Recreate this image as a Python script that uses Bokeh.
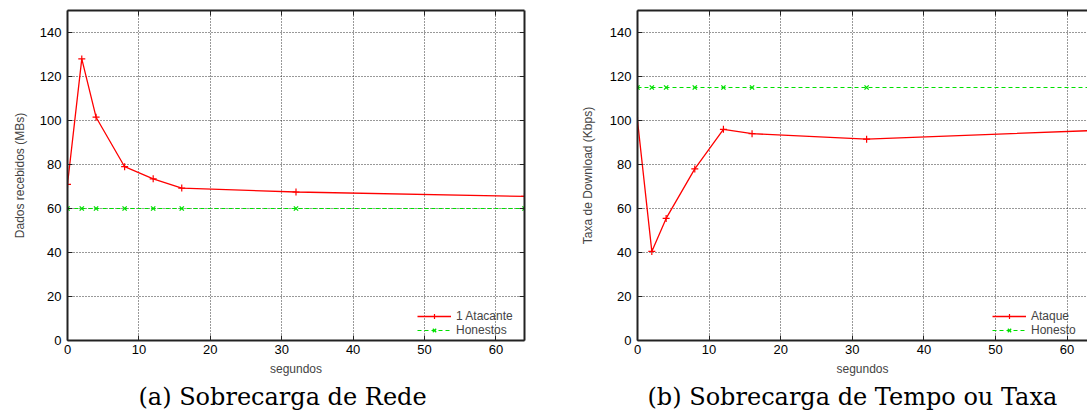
from bokeh.plotting import figure
from bokeh.models import Range1d, FixedTicker, LinearAxis, Legend, LegendItem
from bokeh.layouts import row
from bokeh.embed import file_html
from bokeh.resources import INLINE

# ---- data ----
tempo = [0, 2, 4, 8, 12, 16, 32, 64]
dados_atacante = [71, 128, 101.5, 79, 73.5, 69.3, 67.5, 65.5]
dados_honestos = [60, 60, 60, 60, 60, 60, 60, 60]
taxa_ataque = [100, 40.5, 55.5, 78, 96, 94, 91.5, 95.5]
taxa_honesto = [115, 115, 115, 115, 115, 115, 115, 115]
x_ticks = [0, 10, 20, 30, 40, 50, 60]
y_ticks = [0, 20, 40, 60, 80, 100, 120, 140]

SANS = "Liberation Sans"
SERIF = "DejaVu Serif"
RED = "#ff0000"
GREEN = "#00e000"


def style_axis(ax, labels=True):
    ax.major_tick_in = 5
    ax.major_tick_out = 0
    ax.minor_tick_line_color = None
    ax.axis_line_width = 2
    ax.axis_line_color = "#222222"
    ax.major_tick_line_color = "#222222"
    ax.major_tick_line_width = 1
    ax.major_label_text_font = SANS
    ax.major_label_text_font_size = "13px"
    ax.major_label_text_color = "black" if labels else None
    ax.axis_label_text_font = SANS
    ax.axis_label_text_font_size = "12px"
    ax.axis_label_text_font_style = "normal"


def make(title, ylabel, x_end, ys_red, ys_green, lab_red, lab_green, width, bl, br,
         mirror_right, ylab_standoff, title_offset, leg_loc):
    p = figure(width=width, height=418, output_backend="svg", toolbar_location=None,
               x_range=Range1d(0, x_end), y_range=Range1d(0, 150),
               min_border_left=bl, min_border_right=br, min_border_top=10, min_border_bottom=78)
    p.outline_line_color = None
    p.xaxis.ticker = FixedTicker(ticks=x_ticks)
    p.yaxis.ticker = FixedTicker(ticks=y_ticks)
    p.xaxis.axis_label = "segundos"
    p.yaxis.axis_label = ylabel
    style_axis(p.xaxis[0])
    style_axis(p.yaxis[0])
    p.xaxis.major_label_standoff = 4
    p.xaxis.axis_label_standoff = 5
    p.yaxis.major_label_standoff = 6
    p.yaxis.axis_label_standoff = ylab_standoff
    top = LinearAxis(ticker=FixedTicker(ticks=x_ticks))
    style_axis(top, labels=False)
    top.major_label_text_font_size = "0px"
    p.add_layout(top, "above")
    if mirror_right:
        right = LinearAxis(ticker=FixedTicker(ticks=y_ticks))
        style_axis(right, labels=False)
        right.major_label_text_font_size = "0px"
        p.add_layout(right, "right")
    for g in (p.xgrid[0], p.ygrid[0]):
        g.grid_line_color = "#333333"
        g.grid_line_dash = "1 2"
        g.grid_line_width = 1
    p.xgrid.ticker = FixedTicker(ticks=x_ticks[1:])
    p.ygrid.ticker = FixedTicker(ticks=y_ticks[1:])

    l1 = p.line(tempo, ys_red, line_color=RED, line_width=1.3)
    m1 = p.scatter(tempo, ys_red, marker="cross", size=7, line_color=RED, line_width=1.2)
    l2 = p.line(tempo, ys_green, line_color=GREEN, line_width=1.2, line_dash="4 3")
    m2 = p.scatter(tempo, ys_green, marker="x", size=6, line_color=GREEN, line_width=1.3)

    leg = Legend(items=[LegendItem(label=lab_red, renderers=[l1, m1]),
                        LegendItem(label=lab_green, renderers=[l2, m2])],
                 location=leg_loc)
    leg.background_fill_alpha = 0
    leg.border_line_color = None
    leg.label_text_font = SANS
    leg.label_text_font_size = "12px"
    leg.label_height = 12
    leg.glyph_height = 12
    leg.glyph_width = 34
    leg.spacing = 0
    leg.padding = 0
    leg.margin = 0
    p.add_layout(leg, "center")

    p.title.text = title
    p.title_location = "below"
    p.title.align = "left"
    p.title.offset = title_offset
    p.title.standoff = 4
    p.title.text_font = SERIF
    p.title.text_font_size = "24px"
    p.title.text_font_style = "normal"
    p.title.text_color = "black"
    return p


pa = make("(a) Sobrecarga de Rede", "Dados recebidos (MBs)", 64,
          dados_atacante, dados_honestos, "1 Atacante", "Honestos",
          width=560, bl=67, br=36, mirror_right=True, ylab_standoff=10, title_offset=71,
          leg_loc=(350, 3))
pb = make("(b) Sobrecarga de Tempo ou Taxa", "Taxa de Download (Kbps)", 62.85,
          taxa_ataque, taxa_honesto, "Ataque", "Honesto",
          width=527, bl=77, br=0, mirror_right=False, ylab_standoff=12, title_offset=10,
          leg_loc=(355, 3))

layout = row(pa, pb)
open("out.html", "w").write(file_html(layout, INLINE))
